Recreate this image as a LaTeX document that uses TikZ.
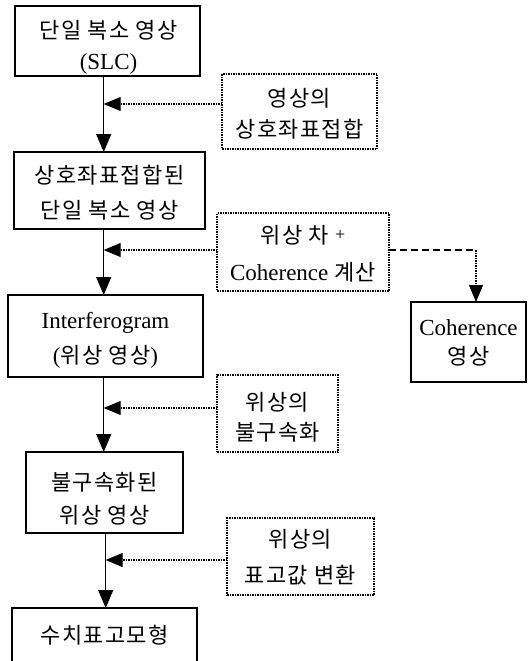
\documentclass[tikz,border=0pt]{standalone}
\usepackage{fontspec}
\setmainfont{Liberation Serif}
\newfontfamily\krfont[LetterSpace=6]{Noto Sans CJK KR}
\usetikzlibrary{arrows.meta}
\newcommand\K[1]{{\krfont\fontsize{22}{22}\selectfont #1}}
\begin{document}
\begin{tikzpicture}[x=1pt,y=-1pt,
  solidbox/.style={draw, line width=1.3pt, inner sep=0pt, outer sep=0pt},
  dotbox/.style={draw, line width=1.1pt, dash pattern=on 1.5pt off 1pt, inner sep=0pt, outer sep=0pt},
  txt/.style={align=center, inner sep=0pt, font=\fontsize{23}{#1}\selectfont},
  flow/.style={line width=1.4pt, -{Triangle[length=18pt,width=15pt]}},
  feed/.style={line width=1.1pt, dash pattern=on 1.5pt off 1pt, -{Triangle[length=17pt,width=14pt]}},
  cohdash/.style={line width=1.8pt, dash pattern=on 7pt off 4pt}]
\clip (0,0) rectangle (529,661);
\fill[white] (0,0) rectangle (529,661);
% main boxes
\node[solidbox, minimum width=185pt, minimum height=70pt] (b1) at (107.5,41) {};
\node[solidbox, minimum width=191pt, minimum height=77pt] (b2) at (109.5,190.5) {};
\node[solidbox, minimum width=195pt, minimum height=82pt] (b3) at (105.5,336) {};
\node[solidbox, minimum width=157pt, minimum height=81pt] (b4) at (104.5,492.5) {};
\node[solidbox, minimum width=185pt, minimum height=70pt] (b5) at (104.5,643) {};
\node[solidbox, minimum width=115pt, minimum height=80pt] (coh) at (468.5,342) {};
% dotted boxes
\node[dotbox, minimum width=155pt, minimum height=75pt] (d1) at (299.5,111.5) {};
\node[dotbox, minimum width=172pt, minimum height=78pt] (d2) at (303,252) {};
\node[dotbox, minimum width=121pt, minimum height=77pt] (d3) at (277.5,413.5) {};
\node[dotbox, minimum width=147pt, minimum height=77pt] (d4) at (300.5,556.5) {};
% texts
\node[txt=31] (t1) at (108.5,47) {\K{단일 복소 영상}\\(SLC)};
\node[txt=35] (t2) at (109.5,192.5) {\K{상호좌표접합된}\\\K{단일 복소 영상}};
\node[txt=35] (t3) at (105.5,340.5) {Interferogram\\(\K{위상 영상})};
\node[txt=33] (t4) at (104.5,498.5) {\K{불구속화된}\\\K{위상 영상}};
\node[txt=20] (t5) at (104.5,635) {\K{수치표고모형}};
\node[txt=31] (td1) at (299.5,113.5) {\K{영상의}\\\K{상호좌표접합}};
\node[txt=37] (td2) at (303,253.5) {\K{위상 차}\hspace{6pt}\raisebox{3pt}{\fontsize{18}{18}\selectfont +}\\Coherence \K{계산}};
\node[txt=30] (td3) at (277.5,417) {\K{위상의}\\\K{불구속화}};
\node[txt=36] (td4) at (300.5,557) {\K{위상의}\\\K{표고값 변환}};
\node[txt=29] (tc) at (468.5,342.5) {Coherence\\\K{영상}};
% junctions on the main line
\coordinate (j1) at (103.7,104);
\coordinate (j2) at (103.7,250);
\coordinate (j3) at (103.7,408);
\coordinate (j4) at (105.7,560);
\coordinate (c1) at (476,250);
% main flow
\draw[flow] (b1.south -| j1) -- (b2.north -| j1);
\draw[flow] (b2.south -| j2) -- (b3.north -| j2);
\draw[flow] (b3.south -| j3) -- (b4.north -| j3);
\draw[flow] (b4.south -| j4) -- (b5.north -| j4);
% feeds
\draw[feed] (d1.west |- j1) -- (j1);
\draw[feed] (d2.west |- j2) -- (j2);
\draw[feed] (d3.west |- j3) -- (j3);
\draw[feed] (d4.west |- j4) -- (j4);
% coherence branch
\draw[cohdash] (d2.east |- c1) -- (c1);
\draw[feed] (c1) -- (coh.north -| c1);
\end{tikzpicture}
\end{document}
